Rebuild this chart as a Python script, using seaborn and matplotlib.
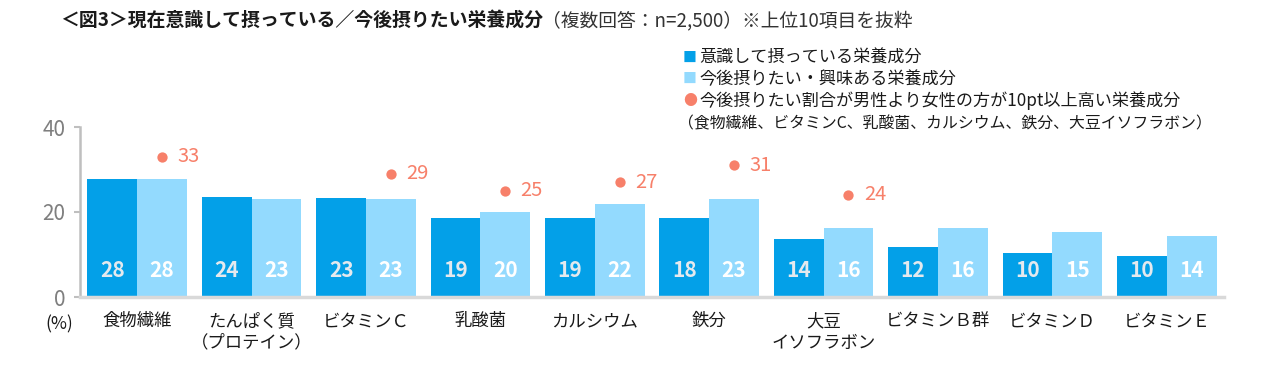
import matplotlib
matplotlib.use("Agg")
import matplotlib.pyplot as plt
import seaborn as sns
import pandas as pd
import numpy as np

categories = ["食物繊維", "たんぱく質\n（プロテイン）", "ビタミンＣ", "乳酸菌", "カルシウム",
              "鉄分", "大豆\nイソフラボン", "ビタミンＢ群", "ビタミンＤ", "ビタミンＥ"]
series_names = ["意識して摂っている栄養成分", "今後摂りたい・興味ある栄養成分"]
current_vals = [27.8, 23.5, 23.3, 18.6, 18.6, 18.5, 13.6, 11.8, 10.4, 9.7]
future_vals = [27.8, 23.1, 23.1, 20.0, 21.9, 23.1, 16.3, 16.3, 15.4, 14.4]
female_vals = [33, None, 29, 25, 27, 31, 24, None, None, None]
yticks = [0, 20, 40]

C_DARK = "#03A0E8"
C_LIGHT = "#93DAFE"
C_DOT = "#F7806A"
FONT = ["Noto Sans CJK JP", "DejaVu Sans"]

sns.set_theme(style="white")
plt.rcParams["font.family"] = FONT

df = pd.DataFrame({
    "cat": categories * 2,
    "val": current_vals + future_vals,
    "series": [series_names[0]] * len(categories) + [series_names[1]] * len(categories),
})

fig = plt.figure(figsize=(12.74, 3.74), dpi=100)
ax = fig.add_axes([80 / 1274, 1 - 297 / 374, (1224 - 80) / 1274, 170 / 374])

sns.barplot(data=df, x="cat", y="val", hue="series", order=categories,
            hue_order=series_names, palette=[C_DARK, C_LIGHT], width=0.87,
            dodge=True, gap=0, saturation=1, linewidth=0, legend=False, ax=ax)

ax.set_ylim(0, 40)
ax.set_xlim(-0.5, len(categories) - 0.5)
ax.set_yticks(yticks)
ax.set_xlabel("")
ax.set_ylabel("")
for s in ["top", "right"]:
    ax.spines[s].set_visible(False)
ax.spines["left"].set_color("#BFBFBF")
ax.spines["left"].set_linewidth(1.8)
ax.spines["bottom"].set_color("#D9D9D9")
ax.spines["bottom"].set_linewidth(2.5)
ax.tick_params(axis="y", length=4.3, width=1.5, color="#BFBFBF", labelsize=15,
               labelcolor="#7F7F7F", pad=6, left=True)
ax.tick_params(axis="x", length=0, labelsize=12.5, labelcolor="#1A1A1A", pad=11)
for lbl in ax.get_xticklabels():
    lbl.set_linespacing(1.25)
    lbl.set_va("top")

# value labels inside bars
label_cols = ["#E4E9EE", "#FFFFFF"]
for ci, cont in enumerate(ax.containers[:2]):
    for p in cont.patches:
        v = p.get_height()
        ax.text(p.get_x() + p.get_width() / 2, 6.2, f"{v:.0f}", ha="center", va="center",
                color=label_cols[ci], fontsize=15, fontweight="bold", family=FONT)

# female-higher dots, above the light bars
light_patches = ax.containers[1].patches
for p, fv in zip(light_patches, female_vals):
    if fv is None:
        continue
    xc = p.get_x() + p.get_width() / 2
    ax.scatter([xc], [fv], s=55, color=C_DOT, zorder=5, linewidths=0)
    ax.annotate(f"{fv}", (xc, fv), xytext=(11, 0), textcoords="offset points",
                ha="left", va="center", color=C_DOT, fontsize=14.5, family=FONT)

# (%) label
fig.text(45 / 1274, 1 - 324 / 374, "(%)", ha="left", va="center", fontsize=12.5,
         color="#1A1A1A", family=FONT)

# title
fig.text(60 / 1274, 1 - 20 / 374, "＜図3＞現在意識して摂っている／今後摂りたい栄養成分",
         ha="left", va="center", fontsize=13.6, fontweight="bold", color="#1A1A1A", family=FONT)
fig.text(542 / 1274, 1 - 21 / 374, "（複数回答：n=2,500）※上位10項目を抜粋",
         ha="left", va="center", fontsize=13.5, color="#333333", family=FONT)

# legend
leg_items = [
    ("■", C_DARK, series_names[0], 58),
    ("■", C_LIGHT, series_names[1], 79),
    ("●", C_DOT, "今後摂りたい割合が男性より女性の方が10pt以上高い栄養成分", 101),
]
for sym, col, txt, yy in leg_items:
    fig.text(683 / 1274, 1 - yy / 374, sym, ha="left", va="center", fontsize=10,
             color=col, family=FONT)
    fig.text(699 / 1274, 1 - yy / 374, txt, ha="left", va="center", fontsize=12.3,
             color="#1A1A1A", family=FONT)
fig.text(678 / 1274, 1 - 124 / 374, "（食物繊維、ビタミンC、乳酸菌、カルシウム、鉄分、大豆イソフラボン）",
         ha="left", va="center", fontsize=11.4, color="#1A1A1A", family=FONT)

fig.savefig("out.png", dpi=100, facecolor="white")
